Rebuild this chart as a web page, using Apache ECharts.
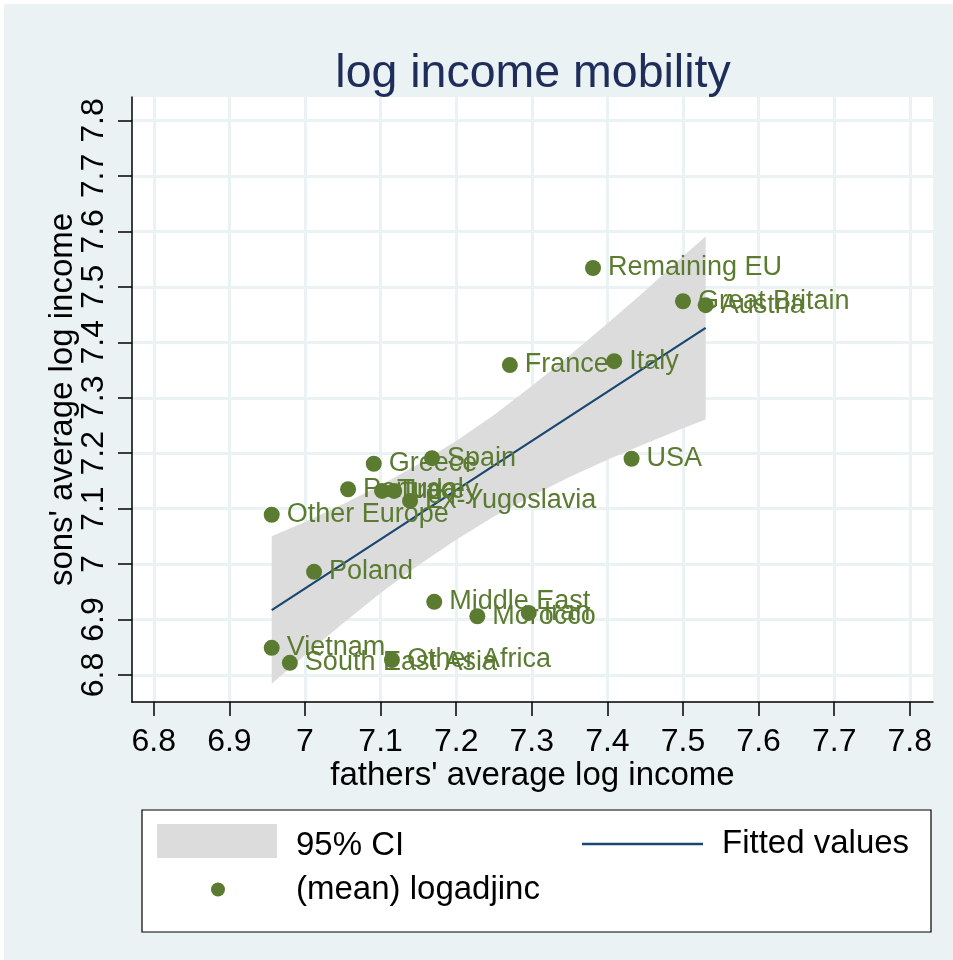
<!DOCTYPE html>
<html>
<head>
<meta charset="utf-8">
<script src="https://cdn.jsdelivr.net/npm/echarts@6/dist/echarts.min.js"></script>
<style>
html,body{margin:0;padding:0;background:#ffffff;}
#chart{position:absolute;left:4px;top:4px;width:949px;height:956px;}
</style>
</head>
<body>
<div id="chart"></div>
<script>
// ---- data ----
const countries = ["Remaining EU","Great Britain","Austria","Italy","France","USA","Spain","Greece",
  "Portugal","Turkey","Iraq","Ex-Yugoslavia","Other Europe","Poland","Middle East","Morocco","Iran",
  "Vietnam","South East Asia","Other Africa"];
const fatherInc = [7.381,7.500,7.530,7.409,7.271,7.432,7.168,7.091,
  7.057,7.102,7.118,7.139,6.956,7.012,7.171,7.228,7.296,
  6.956,6.980,7.115];
const sonInc = [7.534,7.474,7.467,7.366,7.359,7.190,7.191,7.181,
  7.135,7.132,7.132,7.114,7.089,6.986,6.932,6.906,6.912,
  6.849,6.822,6.827];
const fitX = [6.956, 7.530];
const fitY = [6.917, 7.426];
const bandX  = [6.956,7.000,7.050,7.100,7.150,7.200,7.250,7.300,7.350,7.400,7.450,7.500,7.530];
const bandLo = [6.784,6.836,6.893,6.948,6.998,7.044,7.086,7.123,7.157,7.188,7.217,7.245,7.261];
const bandHi = [7.050,7.076,7.108,7.142,7.180,7.222,7.269,7.321,7.376,7.434,7.493,7.555,7.591];
const xTicks = [6.8,6.9,7.0,7.1,7.2,7.3,7.4,7.5,7.6,7.7,7.8];
const yTicks = [6.8,6.9,7.0,7.1,7.2,7.3,7.4,7.5,7.6,7.7,7.8];

const FONT = '"Liberation Sans", Arial, Helvetica, sans-serif';
const GREEN = '#5B7B31';
const NAVY = '#1A476F';
const BAND = '#DCDCDC';
const fmt = v => String(Math.round(v*10)/10);
const legendText = { fontFamily: FONT, fontSize: 33, color: '#000', padding: [0,0,0,14] };

const chart = echarts.init(document.getElementById('chart'));
chart.setOption({
  backgroundColor: '#EAF2F3',
  animation: false,
  textStyle: { fontFamily: FONT },
  title: {
    text: 'log income mobility',
    left: 524, top: 42, textAlign: 'center',
    textStyle: { fontFamily: FONT, fontSize: 46.5, fontWeight: 'normal', color: '#1E2D5A' }
  },
  grid: {
    left: 128, top: 93, right: 20, bottom: 258,
    show: true, backgroundColor: '#ffffff', borderWidth: 0
  },
  xAxis: {
    type: 'value', min: 6.7712, max: 7.8307,
    splitNumber: 10, minInterval: 0.1, maxInterval: 0.1,
    name: "fathers' average log income", nameLocation: 'middle', nameGap: 57, nameMoveOverlap: false,
    nameTextStyle: { fontFamily: FONT, fontSize: 33, color: '#000' },
    axisLine: { show: true, onZero: false, lineStyle: { color: '#000', width: 1.5 } },
    axisTick: { show: true, length: 14, customValues: xTicks, lineStyle: { color: '#000', width: 1.5 } },
    axisLabel: { customValues: xTicks, formatter: fmt, fontFamily: FONT, fontSize: 32, color: '#000', margin: 24 },
    splitLine: { show: true, lineStyle: { color: '#EAF2F3', width: 3 } }
  },
  yAxis: {
    type: 'value', min: 6.7513, max: 7.8424,
    splitNumber: 10, minInterval: 0.1, maxInterval: 0.1,
    name: "sons' average log income", nameLocation: 'middle', nameGap: 53, nameMoveOverlap: false,
    nameTextStyle: { fontFamily: FONT, fontSize: 33, color: '#000' },
    axisLine: { show: true, onZero: false, lineStyle: { color: '#000', width: 1.5 } },
    axisTick: { show: true, length: 14, customValues: yTicks, lineStyle: { color: '#000', width: 1.5 } },
    axisLabel: { customValues: yTicks, formatter: fmt, rotate: 90, fontFamily: FONT, fontSize: 32, color: '#000', margin: 22 },
    splitLine: { show: true, lineStyle: { color: '#EAF2F3', width: 3 } }
  },
  legend: [
    { data: [{ name: '95% CI', icon: 'rect', itemStyle: { color: BAND, borderWidth: 0 } }],
      left: 153, top: 820, padding: 0, itemWidth: 120, itemHeight: 34, z: 5,
      formatter: () => '', textStyle: legendText },
    { data: [{ name: '95% CI', icon: 'rect', itemStyle: { color: BAND, borderWidth: 0, opacity: 0 } }],
      left: 153, top: 824.5, padding: 0, itemWidth: 120, itemHeight: 34, z: 6,
      textStyle: legendText },
    { data: [{ name: 'Fitted values', icon: 'rect', itemStyle: { color: NAVY, borderWidth: 0 } }],
      left: 578, top: 823.5, padding: 0, itemWidth: 121, itemHeight: 2.5, z: 5,
      textStyle: legendText },
    { data: [{ name: '(mean) logadjinc', icon: 'circle', itemStyle: { color: GREEN, borderWidth: 0 } }],
      left: 207, top: 869, padding: 0, itemWidth: 14, itemHeight: 14, z: 5,
      textStyle: Object.assign({}, legendText, { padding: [0,0,0,66] }) }
  ],
  graphic: [
    { type: 'rect', z: 1, shape: { x: 138, y: 806, width: 789, height: 122 },
      style: { fill: '#ffffff', stroke: '#000000', lineWidth: 1.2 } }
  ],
  series: [
    { name: '95% CI', type: 'custom', silent: true, z: 1,
      itemStyle: { color: BAND },
      data: [[bandX[0], bandLo[0]]],
      renderItem: function (params, api) {
        const pts = [];
        for (let i = 0; i < bandX.length; i++) pts.push(api.coord([bandX[i], bandHi[i]]));
        for (let i = bandX.length - 1; i >= 0; i--) pts.push(api.coord([bandX[i], bandLo[i]]));
        return { type: 'polygon', shape: { points: pts }, style: { fill: BAND } };
      } },
    { name: 'Fitted values', type: 'line', symbol: 'none',
      data: fitX.map((x,i)=>[x, fitY[i]]),
      itemStyle: { color: NAVY },
      lineStyle: { color: NAVY, width: 2.2 }, z: 3 },
    { name: '(mean) logadjinc', type: 'scatter', symbol: 'circle', symbolSize: 16,
      data: countries.map((c,i)=>({ name: c, value: [fatherInc[i], sonInc[i]] })),
      itemStyle: { color: GREEN, opacity: 1 },
      label: { show: true, position: 'right', distance: 7, formatter: '{b}',
        fontFamily: FONT, fontSize: 27, color: GREEN },
      z: 4 }
  ]
});
</script>
</body>
</html>
